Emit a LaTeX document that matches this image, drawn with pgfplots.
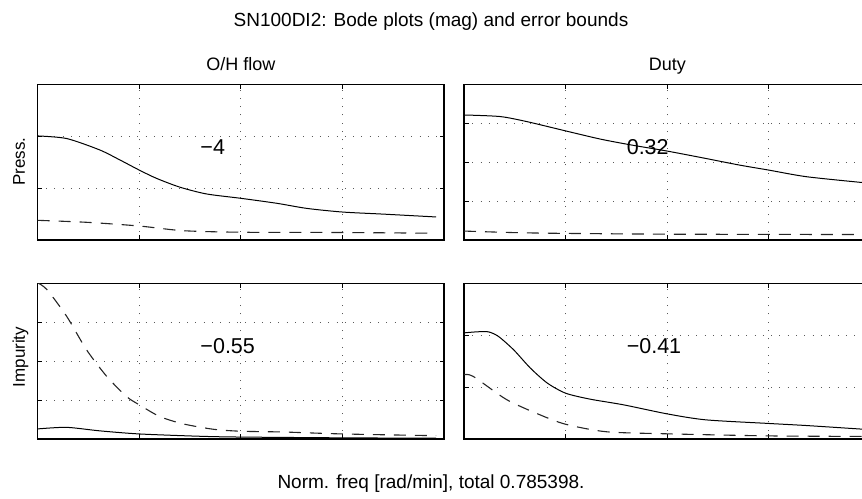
\documentclass[border=0pt]{standalone}
\usepackage{pgfplots}
\pgfplotsset{compat=1.18}
\usepackage{fontspec}
\setmainfont{Liberation Sans}

\pgfplotsset{bode/.style={
  scale only axis, width=406.5pt, height=155.3pt,
  xmin=0, xmax=4, ymin=0,
  xtick={0,1,2,3,4},
  xticklabel=\empty, yticklabel=\empty,
  grid=major,
  major grid style={black!65, line width=1pt, dash pattern=on 1pt off 7.3pt},
  axis line style={line width=1.5pt},
  every tick/.style={black, line width=0.9pt},
  major tick length=4.5pt,
  tick align=inside,
  clip=true,
},
solidc/.style={black, line width=1pt, smooth, tension=0.45},
dashc/.style={black!85, line width=1.1pt, dash pattern=on 12pt off 9pt, smooth, tension=0.45},
}
\newcommand{\numfont}{\fontsize{21.5}{24}\selectfont}

\begin{document}
\begin{tikzpicture}
% top-left
\begin{axis}[bode, at={(37.7pt,258pt)}, anchor=south west, ymax=3, ytick={0,1,2,3}]
\addplot[solidc] coordinates {(0,2.01) (0.285,1.96) (0.61,1.74) (0.81,1.545) (1.0,1.35) (1.17,1.19) (1.40,1.02) (1.66,0.89) (2.0,0.805) (2.35,0.71) (2.65,0.61) (3.0,0.54) (3.40,0.50) (3.92,0.445)};
\addplot[dashc] coordinates {(0,0.38) (0.5,0.34) (1,0.27) (1.43,0.18) (2,0.15) (3,0.145) (3.92,0.13)};
\node[anchor=west, inner sep=0pt, font=\numfont] at (rel axis cs:0.4,0.595) {−4};
\end{axis}
% top-right
\begin{axis}[bode, at={(464pt,258pt)}, anchor=south west, ymax=4, ytick={0,1,2,3,4}]
\addplot[solidc] coordinates {(0,3.22) (0.354,3.18) (0.617,3.05) (1.0,2.81) (1.34,2.60) (1.64,2.45) (2.0,2.29) (2.38,2.10) (2.71,1.93) (3.0,1.80) (3.37,1.63) (3.92,1.48)};
\addplot[dashc] coordinates {(0,0.23) (0.5,0.19) (1,0.17) (2,0.15) (3,0.145) (3.92,0.14)};
\node[anchor=west, inner sep=0pt, font=\numfont] at (rel axis cs:0.4,0.595) {0.32};
\end{axis}
% bottom-left
\begin{axis}[bode, at={(37.7pt,59pt)}, anchor=south west, ymax=4, ytick={0,1,2,3,4}]
\addplot[solidc] coordinates {(0,0.26) (0.285,0.30) (0.61,0.21) (1,0.13) (1.6,0.07) (2,0.05) (3,0.03) (3.92,0.02)};
\addplot[dashc] coordinates {(0,4.02) (0.09,3.85) (0.285,3.16) (0.48,2.30) (0.68,1.61) (0.876,1.09) (1.0,0.88) (1.2,0.58) (1.43,0.39) (1.73,0.25) (2,0.20) (2.42,0.18) (3,0.13) (3.92,0.085)};
\node[anchor=west, inner sep=0pt, font=\numfont] at (rel axis cs:0.4,0.595) {−0.55};
\end{axis}
% bottom-right
\begin{axis}[bode, at={(464pt,59pt)}, anchor=south west, ymax=3, ytick={0,1,2,3}]
\addplot[solidc] coordinates {(0,2.05) (0.125,2.07) (0.24,2.07) (0.34,1.98) (0.49,1.72) (0.653,1.37) (0.82,1.08) (1.0,0.885) (1.24,0.77) (1.57,0.66) (2.0,0.485) (2.38,0.37) (3.0,0.30) (3.37,0.26) (3.92,0.19)};
\addplot[dashc] coordinates {(0,1.24) (0.09,1.21) (0.42,0.76) (0.75,0.465) (1,0.285) (1.40,0.14) (2,0.10) (3,0.06) (3.92,0.05)};
\node[anchor=west, inner sep=0pt, font=\numfont] at (rel axis cs:0.4,0.595) {−0.41};
\end{axis}
% texts
\node[anchor=base, inner sep=0pt, font=\fontsize{19}{22}\selectfont] at (431pt,471.3pt) {SN100DI2: Bode plots (mag) and error bounds};
\node[anchor=base, inner sep=0pt, font=\fontsize{18}{21}\selectfont] at (240.9pt,427.3pt) {O/H flow};
\node[anchor=base, inner sep=0pt, font=\fontsize{18}{21}\selectfont] at (667.3pt,427.3pt) {Duty};
\node[anchor=base, inner sep=0pt, font=\fontsize{19}{22}\selectfont] at (431pt,9.7pt) {Norm. freq [rad/min], total 0.785398.};
\node[anchor=base, inner sep=0pt, rotate=90, font=\fontsize{17}{20}\selectfont] at (25pt,336.3pt) {Press.};
\node[anchor=base, inner sep=0pt, rotate=90, font=\fontsize{17}{20}\selectfont] at (25pt,141pt) {Impurity};
\pgfresetboundingbox
\path[use as bounding box] (0pt,0pt) rectangle (862pt,498pt);
\end{tikzpicture}
\end{document}
